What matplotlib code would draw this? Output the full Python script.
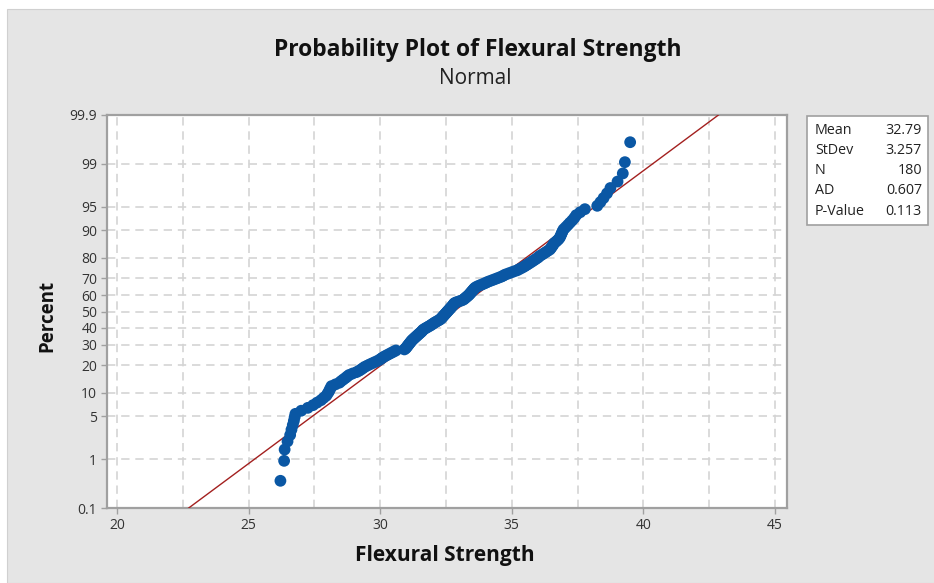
import matplotlib

matplotlib.use("Agg")
import matplotlib.pyplot as plt
import numpy as np
from matplotlib.patches import Rectangle
from statistics import NormalDist

# Flexural strength observations, sorted ascending (n = 180)
strength = [
    26.21, 26.35, 26.37, 26.48, 26.58, 26.63, 26.68, 26.72, 26.75, 26.78,
    27.00, 27.25, 27.45, 27.60, 27.75, 27.85, 27.95, 28.00, 28.05, 28.08,
    28.12, 28.15, 28.30, 28.45, 28.52, 28.60, 28.68, 28.75, 28.82, 28.95,
    29.10, 29.20, 29.28, 29.35, 29.42, 29.52, 29.62, 29.72, 29.82, 29.92,
    30.00, 30.06, 30.12, 30.20, 30.28, 30.36, 30.44, 30.52, 30.60, 30.92,
    30.97, 31.00, 31.03, 31.06, 31.09, 31.12, 31.15, 31.18, 31.21, 31.25,
    31.29, 31.33, 31.37, 31.41, 31.45, 31.49, 31.53, 31.57, 31.60, 31.63,
    31.68, 31.74, 31.80, 31.86, 31.92, 31.97, 32.02, 32.07, 32.13, 32.19,
    32.25, 32.30, 32.33, 32.36, 32.39, 32.42, 32.45, 32.48, 32.51, 32.54,
    32.57, 32.60, 32.63, 32.66, 32.69, 32.72, 32.75, 32.78, 32.80, 32.83,
    32.90, 33.00, 33.10, 33.17, 33.21, 33.25, 33.29, 33.33, 33.37, 33.40,
    33.43, 33.46, 33.49, 33.52, 33.55, 33.58, 33.62, 33.68, 33.76, 33.85,
    33.94, 34.02, 34.10, 34.20, 34.30, 34.40, 34.50, 34.60, 34.68, 34.75,
    34.86, 34.97, 35.08, 35.20, 35.28, 35.36, 35.44, 35.51, 35.58, 35.65,
    35.72, 35.79, 35.86, 35.93, 36.00, 36.05, 36.13, 36.21, 36.29, 36.37,
    36.45, 36.49, 36.53, 36.57, 36.60, 36.67, 36.74, 36.80, 36.84, 36.87,
    36.90, 36.93, 36.97, 37.05, 37.13, 37.21, 37.30, 37.38, 37.45, 37.60,
    37.78, 38.25, 38.37, 38.49, 38.62, 38.75, 39.02, 39.22, 39.30, 39.50,
]

stat_labels = ["Mean", "StDev", "N", "AD", "P-Value"]
stat_values = ["32.79", "3.257", "180", "0.607", "0.113"]
fit_mean = 32.79
fit_sd = 3.257

pct_ticks = [0.1, 1, 5, 10, 20, 30, 40, 50, 60, 70, 80, 90, 95, 99, 99.9]
pct_labels = ["0.1", "1", "5", "10", "20", "30", "40", "50", "60", "70",
              "80", "90", "95", "99", "99.9"]
x_ticks = [20, 25, 30, 35, 40, 45]
x_grid = [22.5, 27.5, 32.5, 37.5, 42.5]

W, H = 934, 583
BG = "#e5e5e5"
BLUE = "#0a57a4"
RED = "#a3201f"
GRID = "#d4d4d4"
SPINE = "#a0a0a0"

nd = NormalDist()


def zval(pct):
    return nd.inv_cdf(pct / 100.0)


def fx(px):
    return px / W


def fy(py):
    return 1 - py / H


fig = plt.figure(figsize=(W / 100, H / 100), dpi=100, facecolor="white")
fig.patches.append(Rectangle((fx(7), 0), 1, fy(9), transform=fig.transFigure,
                             facecolor=BG, edgecolor="#d0d0d0", lw=0.8, zorder=-10))

ax = fig.add_axes([fx(107), fy(508), fx(787) - fx(107), fy(115) - fy(508)])
ax.set_zorder(1)
ax.set_facecolor("white")

# median-rank plotting positions
n = len(strength)
ranks = np.arange(1, n + 1)
z_pts = [nd.inv_cdf((r - 0.3) / (n + 0.4)) for r in ranks]

zlo, zhi = zval(0.1), zval(99.9)
z_line = np.array([zlo, zhi])
ax.plot(fit_mean + fit_sd * z_line, z_line, color=RED, lw=1.0, zorder=3)
ax.scatter(strength, z_pts, s=72, color=BLUE, edgecolors="none", zorder=4)

ax.set_xlim(19.62, 45.46)
ax.set_ylim(zlo, zhi)
ax.set_xticks(x_ticks)
ax.set_xticks(x_grid, minor=True)
ax.set_yticks([zval(p) for p in pct_ticks])
ax.set_yticklabels(pct_labels)

ax.grid(True, which="both", axis="x", color=GRID, ls=(0, (5, 3.5)), lw=1.2, zorder=1)
ax.grid(True, which="major", axis="y", color=GRID, ls=(0, (5, 3.5)), lw=1.2, zorder=1)
ax.set_axisbelow(True)

for sp in ax.spines.values():
    sp.set_color(SPINE)
    sp.set_linewidth(1.6)
ax.tick_params(axis="both", which="major", length=4, width=1, color=SPINE,
               labelsize=10, labelcolor="#333333", pad=3)
ax.tick_params(axis="x", which="minor", length=0)
for lab in ax.get_xticklabels() + ax.get_yticklabels():
    lab.set_family("Open Sans")

fig.text(fx(478), fy(50), "Probability Plot of Flexural Strength", ha="center",
         va="center", fontsize=16.5, fontweight="bold", family="Open Sans", color="#111111")
fig.text(fx(475), fy(78), "Normal", ha="center", va="center", fontsize=15,
         family="Open Sans", color="#222222")
fig.text(fx(445), fy(555), "Flexural Strength", ha="center", va="center",
         fontsize=15, fontweight="bold", family="Open Sans", color="#111111")
fig.text(fx(47), fy(316), "Percent", ha="center", va="center", rotation=90,
         fontsize=13.5, fontweight="bold", family="Open Sans", color="#111111")

# summary statistics box
fig.patches.append(Rectangle((fx(807), fy(225)), fx(928) - fx(807), fy(116) - fy(225),
                             transform=fig.transFigure, facecolor="white",
                             edgecolor=SPINE, lw=1.2, zorder=2))
for i, (lab, val) in enumerate(zip(stat_labels, stat_values)):
    yy = fy(130 + i * 20.3)
    fig.text(fx(815), yy, lab, ha="left", va="center", fontsize=10.3,
             family="Open Sans", color="#222222", zorder=3)
    fig.text(fx(922), yy, val, ha="right", va="center", fontsize=10.3,
             family="Open Sans", color="#222222", zorder=3)

fig.savefig("out.png", dpi=100, facecolor=fig.get_facecolor())
